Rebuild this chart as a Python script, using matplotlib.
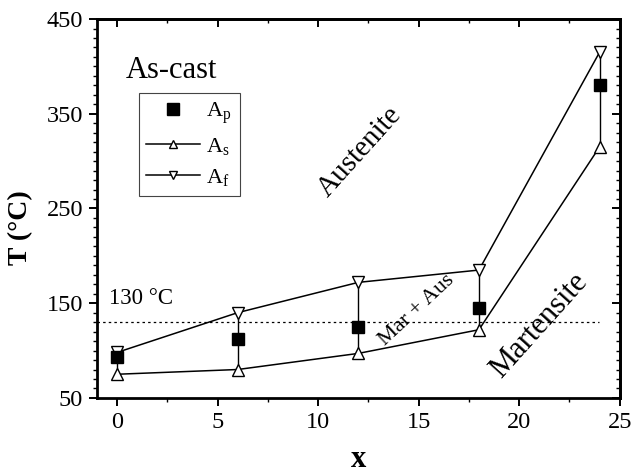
import matplotlib
matplotlib.use("Agg")
import matplotlib.pyplot as plt
from matplotlib.ticker import MultipleLocator, FixedLocator
from matplotlib.lines import Line2D

plt.rcParams.update({"font.family": "Liberation Serif", "mathtext.fontset": "custom",
                     "mathtext.rm": "Liberation Serif", "mathtext.it": "Liberation Serif"})

# transformation temperatures vs. composition, as-cast
x = [0, 6, 12, 18, 24]
A_p = [93, 112, 125, 145, 380]
A_s = [75, 80, 97, 122, 315]
A_f = [98, 140, 172, 185, 415]
T_ref = 130

fig = plt.figure(figsize=(6.33, 4.76), dpi=100)
ax = fig.add_axes([0.153, 0.164, 0.826, 0.796])

ax.vlines(x, A_s, A_f, color="black", lw=1.0, zorder=2)
ax.plot(x, A_s, "-", color="black", lw=1.1, marker="^", ms=8, mfc="white", mec="black", mew=1.0, zorder=3)
ax.plot(x, A_f, "-", color="black", lw=1.1, marker="v", ms=8, mfc="white", mec="black", mew=1.0, zorder=3)
ax.plot(x, A_p, "s", color="black", ms=9, zorder=4)
ax.axhline(T_ref, xmin=0.0, xmax=0.96, color="black", lw=0.9, ls=(0, (2, 2.5)), zorder=1)

ax.set_xlim(-1, 25)
ax.set_ylim(50, 450)
ax.xaxis.set_major_locator(MultipleLocator(5))
ax.xaxis.set_minor_locator(MultipleLocator(2.5))
ax.yaxis.set_major_locator(FixedLocator([50, 150, 250, 350, 450]))
ax.yaxis.set_minor_locator(MultipleLocator(10))
ax.tick_params(which="major", direction="out", length=6, width=1.4, labelsize=17.5, pad=4)
ax.tick_params(which="minor", direction="out", length=3, width=1.0)
for s in ax.spines.values():
    s.set_linewidth(2.0)

# mirrored ticks on top and right, pointing inward
top = ax.secondary_xaxis("top")
top.xaxis.set_major_locator(MultipleLocator(5))
top.xaxis.set_minor_locator(MultipleLocator(2.5))
top.tick_params(which="major", direction="in", length=6, width=1.4, labeltop=False)
top.tick_params(which="minor", direction="in", length=3, width=1.0)
right = ax.secondary_yaxis("right")
right.yaxis.set_major_locator(FixedLocator([50, 150, 250, 350, 450]))
right.yaxis.set_minor_locator(MultipleLocator(10))
right.tick_params(which="major", direction="in", length=6, width=1.4, labelright=False)
right.tick_params(which="minor", direction="in", length=3, width=1.0)
for sec in (top, right):
    for s in sec.spines.values():
        s.set_linewidth(2.0)

fig.text(0.566, 0.018, "x", fontsize=22, fontweight="bold", ha="center", va="baseline")
ax.set_ylabel("T (°C)", fontsize=20, fontweight="bold")
ax.yaxis.set_label_coords(-0.122, 0.45)

ax.text(0.45, 396, "As-cast", fontsize=22, va="center", ha="left")
ax.text(-0.4, 155, "130 °C", fontsize=16.5, va="center", ha="left")
ax.text(12.1, 310, "Austenite", fontsize=21, rotation=48, ha="center", va="center")
ax.text(14.9, 143, "Mar + Aus", fontsize=16, rotation=43, ha="center", va="center")
ax.text(21.0, 126, "Martensite", fontsize=22, rotation=48, ha="center", va="center")

handles = [
    Line2D([], [], ls="none", marker="s", color="black", ms=9),
    Line2D([], [], color="black", lw=1.1, marker="^", ms=6, mfc="white", mec="black"),
    Line2D([], [], color="black", lw=1.1, marker="v", ms=6, mfc="white", mec="black"),
]
leg = ax.legend(handles, ["A$_\\mathrm{p}$", "A$_\\mathrm{s}$", "A$_\\mathrm{f}$"],
                loc="upper left", bbox_to_anchor=(0.080, 0.805), fontsize=16,
                fancybox=False, framealpha=1, edgecolor="#444444",
                handlelength=2.4, handletextpad=0.3, borderpad=0.35, labelspacing=0.45,
                borderaxespad=0)
leg.get_frame().set_linewidth(0.8)

fig.savefig("out.png", dpi=100)
